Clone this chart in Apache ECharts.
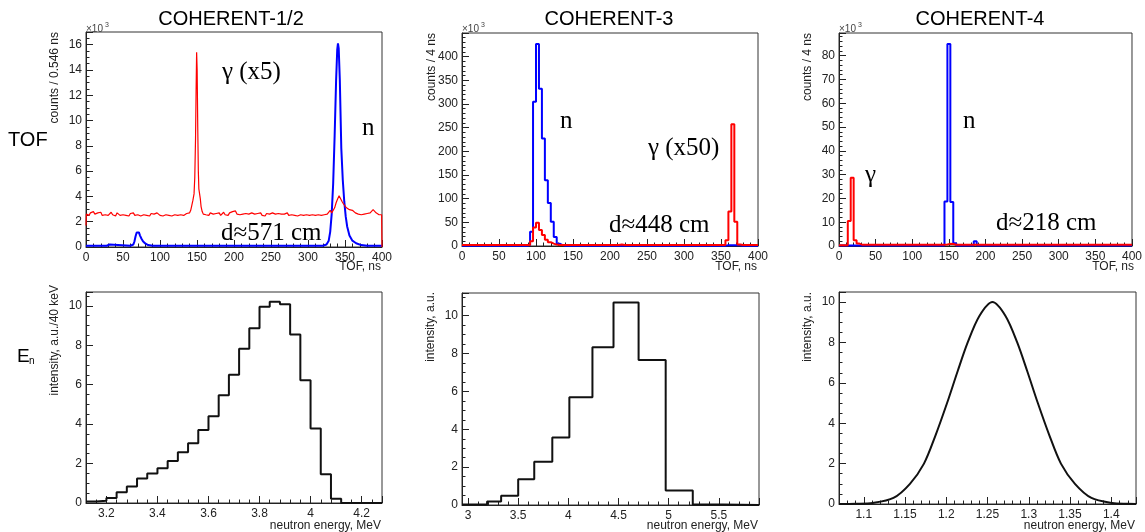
<!DOCTYPE html>
<html><head><meta charset="utf-8">
<script src="https://cdn.jsdelivr.net/npm/echarts@6/dist/echarts.min.js"></script>
<style>html,body{margin:0;padding:0;background:#fff}#c{width:1145px;height:532px}</style>
</head><body><div id="c"></div>
<script>
// ---------------- DATA ----------------
const panelTitles = ['COHERENT-1/2', 'COHERENT-3', 'COHERENT-4'];
const tofAxisTitle = 'TOF, ns';
const energyAxisTitle = 'neutron energy, MeV';
const topYTitles = ['counts / 0.546 ns', 'counts / 4 ns', 'counts / 4 ns'];
const botYTitles = ['intensity, a.u./40 keV', 'intensity, a.u.', 'intensity, a.u.'];
const annotations1 = ['γ (x5)', 'n', 'd≈571 cm'];
const annotations2 = ['n', 'γ (x50)', 'd≈448 cm'];
const annotations3 = ['γ', 'n', 'd≈218 cm'];

// COHERENT-1/2 TOF (units of 10^3 counts), [ns, value]
const red1 = [[0,1.7],[0.5,2.6],[2,2.75],[4,2.5],[6,2.7],[8,2.55],[10,2.8],[12,2.6],[14,2.45],[16,2.7],[18,2.6],[20,2.75],[22,2.5],[24,2.65],[26,2.55],[28,2.7],[30,2.5],[32,2.6],[34,2.75],[36,2.55],[38,2.6],[40,2.45],[42,2.7],[44,2.6],[46,2.5],[48,2.65],[50,2.55],[52,2.7],[54,2.5],[56,2.6],[58,2.45],[60,2.65],[62,2.55],[64,2.7],[66,2.5],[68,2.6],[70,2.55],[72,2.7],[74,2.45],[76,2.6],[78,2.55],[80,2.7],[82,2.5],[84,2.6],[86,2.45],[88,2.65],[90,2.55],[92,2.6],[94,2.5],[96,2.7],[98,2.55],[100,2.5],[102,2.65],[104,2.45],[106,2.6],[108,2.55],[110,2.65],[112,2.5],[114,2.6],[116,2.45],[118,2.6],[120,2.55],[122,2.65],[124,2.5],[126,2.6],[128,2.55],[130,2.7],[132,2.5],[134,2.6],[136,2.65],[138,2.55],[140,2.7],[141.5,2.9],[143,3.3],[144.5,3.7],[146,4.2],[147,5.5],[148,8.5],[148.8,12.5],[149.5,15.4],[150.2,14.0],[151,9.5],[151.8,6.0],[152.5,4.6],[153.5,4.2],[154.5,3.8],[155.5,3.2],[157,2.8],[158.5,2.6],[160,2.7],[162,2.55],[164,2.6],[166,2.5],[168,2.7],[170,2.55],[172,2.6],[174,2.5],[176,2.65],[178,2.55],[180,2.7],[182,2.5],[184,2.6],[186,2.75],[188,2.55],[190,2.6],[192,2.5],[194,2.7],[196,2.6],[198,2.8],[200,2.65],[202,2.85],[204,2.6],[206,2.75],[208,2.55],[210,2.7],[212,2.6],[214,2.5],[216,2.65],[218,2.55],[220,2.6],[222,2.5],[224,2.7],[226,2.55],[228,2.6],[230,2.5],[232,2.65],[234,2.55],[236,2.7],[238,2.5],[240,2.6],[242,2.45],[244,2.65],[246,2.55],[248,2.6],[250,2.5],[252,2.7],[254,2.55],[256,2.6],[258,2.5],[260,2.65],[262,2.55],[264,2.6],[266,2.45],[268,2.6],[270,2.55],[272,2.7],[274,2.5],[276,2.6],[278,2.55],[280,2.65],[282,2.5],[284,2.6],[286,2.45],[288,2.6],[290,2.55],[292,2.65],[294,2.5],[296,2.6],[298,2.55],[300,2.7],[302,2.5],[304,2.6],[306,2.55],[308,2.65],[310,2.5],[312,2.6],[314,2.55],[316,2.65],[318,2.5],[320,2.6],[322,2.55],[324,2.7],[326,2.6],[328,2.75],[330,2.9],[332,2.7],[334,2.8],[336,3.1],[338,3.5],[340,3.8],[342,4.05],[344,3.9],[346,3.6],[348,3.4],[350,3.3],[352,3.1],[354,3.0],[356,2.95],[358,2.85],[360,2.9],[362,2.75],[364,2.7],[366,2.8],[368,2.6],[370,2.7],[372,2.55],[374,2.65],[376,2.6],[378,2.55],[380,2.65],[382,2.6],[384,2.7],[386,2.85],[388,2.95],[390,2.8],[392,2.7],[394,2.6],[396,2.55],[398,2.65],[399.5,2.55],[400,0]];
const blue1 = [[0,0.1],[20,0.1],[28,0.1],[30,0.2],[32,0.2],[34,0.1],[60,0.1],[64,0.2],[65.5,0.45],[67,0.85],[68.5,1.15],[70,1.23],[71.5,1.15],[73,0.9],[75,0.65],[77,0.45],[80,0.28],[84,0.15],[90,0.1],[320,0.1],[325,0.2],[328,0.5],[330,1.2],[332,2.6],[334,5.0],[336,8.8],[338,13.2],[339.5,15.6],[340.5,16.1],[341.5,15.7],[343,13.2],[345,7.8],[347,5.3],[349,3.6],[351,2.4],[353,1.6],[356,0.9],[360,0.5],[365,0.3],[372,0.15],[380,0.1],[400,0.1]];

// COHERENT-3 TOF, 4 ns bins from 0 to 400 (10^3 counts)
const blue2 = [0.5,0.5,0.5,0.5,0.5,0.5,0.5,0.5,0.5,0.5, 0.5,0.5,0.5,0.5,0.5,0.5,0.5,0.5,0.5,0.5, 0.5,0.5,2,30,305,427,332,227,139,91, 51,19,5,2,0.5,0.5,0.5,0.5,0.5,0.5, 0.5,0.5,0.5,0.5,0.5,0.5,0.5,0.5,0.5,0.5, 0.5,0.5,0.5,0.5,0.5,0.5,0.5,0.5,0.5,0.5, 0.5,0.5,0.5,0.5,0.5,0.5,0.5,0.5,0.5,0.5, 0.5,0.5,0.5,0.5,0.5,0.5,0.5,0.5,0.5,0.5, 0.5,0.5,0.5,0.5,0.5,0.5,0.5,0.5,0.5,1.5, 1.5,1.5,1.5,1.5,0.5,0.5,0.5,0.5,0.5,0.5];
const red2 = [2,2,2,2,2,2,2,2,2,2, 2,2,2,2,2,2,2,2,2,2, 2,2,2,10,39,49,34,23,13,8, 5,3,2,2,2,2,2,2,2,2, 2,2,2,2,2,2,2,2,2,2, 2,2,2,3,2,2,2,2,2,2, 2,2,2,2,2,2,2,2,2,2, 2,2,2,2,2,2,2,2,2,2, 2,2,2,2,2,2,2,2,2,12, 73,257,51,3,2,2,2,2,2,2];

// COHERENT-4 TOF, 4 ns bins from 0 to 400 (10^3 counts)
const blue3 = [0.2,0.2,0.2,0.2,0.2,0.2,0.2,0.2,0.2,0.2, 0.2,0.2,0.2,0.2,0.2,0.2,0.2,0.2,0.2,0.2, 0.2,0.2,0.2,0.2,0.2,0.2,0.2,0.2,0.2,0.2, 0.2,0.2,0.2,0.2,0.2,0.2,18.7,84.9,18.5,1.2, 0.2,0.2,0.2,0.2,0.2,0.2,2.0,0.2,0.2,0.2, 0.2,0.2,0.2,0.2,0.2,0.2,0.2,0.2,0.2,0.2, 0.2,0.2,0.2,0.2,0.2,0.2,0.2,0.2,0.2,0.2, 0.2,0.2,0.2,0.2,0.2,0.2,0.2,0.2,0.2,0.2, 0.2,0.2,0.2,0.2,0.2,0.2,0.2,0.2,0.2,0.2, 0.2,0.2,0.2,0.2,0.2,0.2,0.2,0.2,0.2,0.2];
const red3 = [0.3,0.3,0.3,10.5,28.7,2.4,1.0,0.5,0.5,0.5, 0.5,0.5,0.5,0.5,0.5,0.5,0.5,0.5,0.5,0.5, 0.5,0.5,0.5,0.5,0.5,0.5,0.5,0.5,0.5,0.5, 0.5,0.5,0.5,0.5,0.5,0.5,0.6,0.9,0.8,0.5, 0.5,0.5,0.5,0.5,0.5,0.5,0.5,0.5,0.5,0.5, 0.5,0.5,0.5,0.5,0.5,0.5,0.5,0.5,0.5,0.5, 0.5,0.5,0.5,0.5,0.5,0.5,0.5,0.5,0.5,0.5, 0.5,0.5,0.5,0.5,0.5,0.5,0.5,0.5,0.5,0.5, 0.5,0.5,0.5,0.5,0.5,0.5,0.5,0.5,0.5,0.5, 0.5,0.5,0.5,0.5,0.5,0.5,0.5,0.5,0.5,0.5];
const tofBinWidth = 4;

// Energy spectra
const edges4 = [3.12,3.16,3.20,3.24,3.28,3.32,3.36,3.40,3.44,3.48,3.52,3.56,3.60,3.64,3.68,3.72,3.76,3.80,3.84,3.88,3.92,3.96,4.00,4.04,4.08,4.12,4.16,4.20,4.24,4.28];
const vals4 = [0.08,0.12,0.25,0.54,0.84,1.24,1.5,1.76,2.13,2.57,3.03,3.7,4.4,5.46,6.5,7.82,8.86,9.95,10.2,10.08,8.54,6.22,3.78,1.46,0.22,0,0,0,0];
const edges5 = [2.94,3.19,3.33,3.50,3.66,3.84,4.01,4.24,4.45,4.70,4.97,5.24,5.54,5.90];
const vals5 = [0.02,0.18,0.49,1.36,2.29,3.56,5.69,8.33,10.7,7.66,0.76,0.03,0];
const curve6 = [[1.07,0],[1.09,0.01],[1.111,0.05],[1.136,0.3],[1.156,1.0],[1.173,2.0],[1.187,3.4],[1.201,5.0],[1.214,6.6],[1.226,8.0],[1.24,9.3],[1.256,10.0],[1.272,9.3],[1.286,8.0],[1.298,6.6],[1.311,5.0],[1.325,3.4],[1.339,2.0],[1.356,1.0],[1.376,0.3],[1.401,0.05],[1.42,0.01],[1.43,0]];

// ---------------- BUILD ----------------
function histFromBins(vals, w) {
  const d = vals.map((v, i) => [i * w, v]);
  d.push([vals.length * w, vals[vals.length - 1]]);
  return d;
}
function histFromEdges(edges, vals) {
  const d = vals.map((v, i) => [edges[i], v]);
  d.push([edges[edges.length - 1], vals[vals.length - 1]]);
  return d;
}

const SANS = 'Liberation Sans';
const SERIF = 'Liberation Serif';
const AX = '#222';

const grids = [
  {left: 86, top: 32, width: 296, height: 215},
  {left: 462, top: 33, width: 296, height: 213},
  {left: 839, top: 33, width: 298, height: 213},
  {left: 86, top: 292, width: 296, height: 211},
  {left: 462, top: 293, width: 297, height: 212},
  {left: 839, top: 292, width: 297, height: 212}
].map(g => Object.assign({show: true, borderColor: '#333', borderWidth: 1, backgroundColor: 'transparent'}, g));

function axis(gi, min, max, o) {
  const a = {
    type: 'value', gridIndex: gi, min: min, max: max,
    axisLine: {show: true, onZero: false, lineStyle: {color: AX, width: 1}},
    axisTick: {show: true, inside: true, length: 7, lineStyle: {color: AX, width: 1}},
    minorTick: {show: true, splitNumber: o.minor || 5, length: 3.5, lineStyle: {color: AX, width: 1}},
    splitLine: {show: false},
    axisLabel: {fontFamily: SANS, fontSize: 12, color: AX, margin: 5,
      showMinLabel: o.showMin !== false, showMaxLabel: o.showMax !== false}
  };
  if (o.interval) a.interval = o.interval;
  if (o.splitNumber) a.splitNumber = o.splitNumber;
  return a;
}

const xAxes = [
  axis(0, 0, 400, {interval: 50}),
  axis(1, 0, 400, {interval: 50}),
  axis(2, 0, 400, {interval: 50}),
  axis(3, 3.12, 4.28, {splitNumber: 5, showMin: false, showMax: false}),
  axis(4, 2.94, 5.90, {splitNumber: 5, showMin: false, showMax: false}),
  axis(5, 1.07, 1.43, {splitNumber: 7, showMin: false, showMax: false})
];
const yAxes = [
  axis(0, 0, 17, {interval: 2, minor: 4, showMax: false}),
  axis(1, 0, 450, {interval: 50, minor: 5, showMax: false}),
  axis(2, 0, 89.5, {interval: 10, minor: 5, showMax: false}),
  axis(3, 0, 10.7, {interval: 2, minor: 4, showMax: false}),
  axis(4, 0, 11.2, {interval: 2, minor: 4, showMax: false}),
  axis(5, 0, 10.5, {interval: 2, minor: 4, showMax: false})
];
yAxes.forEach(a => { a.axisLabel.margin = 4; });

function line(i, data, color, width, extra) {
  return Object.assign({type: 'line', xAxisIndex: i, yAxisIndex: i, data: data, symbol: 'none',
    showSymbol: false, silent: true, animation: false,
    lineStyle: {color: color, width: width}}, extra || {});
}

const series = [
  line(0, blue1, '#0000ff', 2, {z: 2}),
  line(0, red1, '#ff0000', 1.2, {z: 3}),
  line(1, histFromBins(blue2, tofBinWidth), '#0000ff', 2, {step: 'end', z: 2}),
  line(1, histFromBins(red2, tofBinWidth), '#ff0000', 2, {step: 'end', z: 3}),
  line(2, histFromBins(blue3, tofBinWidth), '#0000ff', 2, {step: 'end', z: 2}),
  line(2, histFromBins(red3, tofBinWidth), '#ff0000', 2, {step: 'end', z: 3}),
  line(3, histFromEdges(edges4, vals4), '#111', 2, {step: 'end'}),
  line(4, histFromEdges(edges5, vals5), '#111', 2, {step: 'end'}),
  line(5, curve6, '#111', 2, {smooth: 0.3})
];

function txt(x, y, text, size, family, align, fill) {
  return {type: 'text', x: x, y: y, silent: true,
    style: {text: text, fontSize: size, fontFamily: family, fill: fill || '#000', align: align || 'left', verticalAlign: 'middle'}};
}
function vtitle(x, y, text) {
  return {type: 'text', x: x, y: y, rotation: Math.PI / 2, silent: true,
    style: {text: text, fontSize: 12, fontFamily: SANS, fill: AX, align: 'right', verticalAlign: 'middle'}};
}
function exp10(x) {
  return [txt(x, 29, '×10', 10, SANS, 'left', '#444'), txt(x + 19, 25, '3', 7, SANS, 'left', '#444')];
}

const graphics = [
  txt(231, 19, panelTitles[0], 20, SANS, 'center'),
  txt(609, 19, panelTitles[1], 20, SANS, 'center'),
  txt(980, 19, panelTitles[2], 20, SANS, 'center'),
  txt(8, 140, 'TOF', 20, SANS, 'left'),
  txt(17, 357, 'E', 19, SANS, 'left'),
  txt(29, 361, 'n', 10, SANS, 'left'),
  vtitle(55, 32, topYTitles[0]), vtitle(432, 33, topYTitles[1]), vtitle(808, 33, topYTitles[2]),
  vtitle(55, 285, botYTitles[0]), vtitle(431, 292, botYTitles[1]), vtitle(808, 292, botYTitles[2]),
  txt(381, 267, tofAxisTitle, 12, SANS, 'right', AX),
  txt(757, 267, tofAxisTitle, 12, SANS, 'right', AX),
  txt(1134, 267, tofAxisTitle, 12, SANS, 'right', AX),
  txt(381, 526, energyAxisTitle, 12, SANS, 'right', AX),
  txt(758, 526, energyAxisTitle, 12, SANS, 'right', AX),
  txt(1135, 526, energyAxisTitle, 12, SANS, 'right', AX),
  txt(222, 72.6, annotations1[0], 25, SERIF),
  txt(362, 128.6, annotations1[1], 25, SERIF),
  txt(221, 233.3, annotations1[2], 25, SERIF),
  txt(560, 121.6, annotations2[0], 25, SERIF),
  txt(648, 148.3, annotations2[1], 25, SERIF),
  txt(609, 225, annotations2[2], 25, SERIF),
  txt(865, 175.6, annotations3[0], 25, SERIF),
  txt(963, 121.6, annotations3[1], 25, SERIF),
  txt(996, 223.3, annotations3[2], 25, SERIF)
].concat(exp10(86), exp10(462), exp10(839));

const chart = echarts.init(document.getElementById('c'), null, {renderer: 'canvas'});
chart.setOption({
  animation: false,
  backgroundColor: '#fff',
  grid: grids,
  xAxis: xAxes,
  yAxis: yAxes,
  series: series,
  graphic: graphics
});
</script>
</body></html>
